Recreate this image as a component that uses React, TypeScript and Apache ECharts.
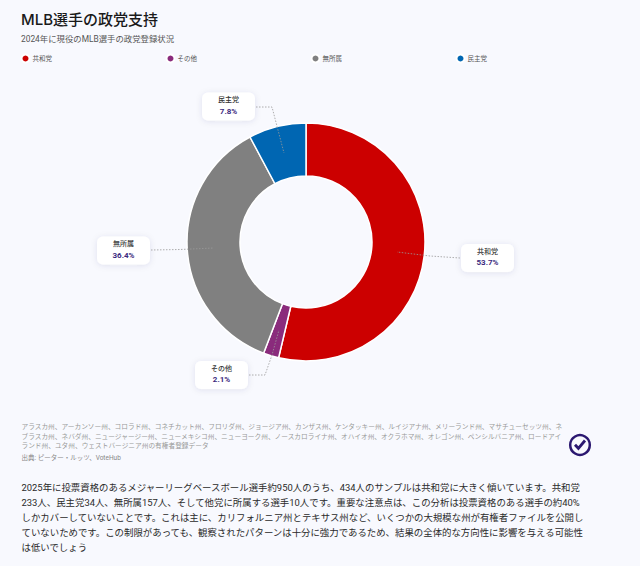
import React, { useEffect, useRef } from "react";
import * as echarts from "echarts";

const titleText = "MLB選手の政党支持";
const subtitleText = "2024年に現役のMLB選手の政党登録状況";
const categories = ["共和党", "その他", "無所属", "民主党"];
const shares = [53.7, 2.1, 36.4, 7.8];
const colors = ["#cc0000", "#8a2b7c", "#808080", "#0066b2"];
const noteLines = [
  "アラスカ州、アーカンソー州、コロラド州、コネチカット州、フロリダ州、ジョージア州、カンザス州、ケンタッキー州、ルイジアナ州、メリーランド州、マサチューセッツ州、ネ",
  "ブラスカ州、ネバダ州、ニュージャージー州、ニューメキシコ州、ニューヨーク州、ノースカロライナ州、オハイオ州、オクラホマ州、オレゴン州、ペンシルバニア州、ロードアイ",
  "ランド州、ユタ州、ウェストバージニア州の有権者登録データ",
];
const sourceText = "出典: ピーター・ルッツ、VoteHub";
const bodyLines = [
  "2025年に投票資格のあるメジャーリーグベースボール選手約950人のうち、434人のサンプルは共和党に大きく傾いています。共和党",
  "233人、民主党34人、無所属157人、そして他党に所属する選手10人です。重要な注意点は、この分析は投票資格のある選手の約40%",
  "しかカバーしていないことです。これは主に、カリフォルニア州とテキサス州など、いくつかの大規模な州が有権者ファイルを公開し",
  "ていないためです。この制限があっても、観察されたパターンは十分に強力であるため、結果の全体的な方向性に影響を与える可能性",
  "は低いでしょう",
];
const legendLefts = [20.5, 165.5, 310.5, 455.5];
const labelCenters = [
  [487.5, 258],
  [221.5, 375],
  [123.5, 250.5],
  [228.5, 106.5],
];
const leaderPoints = [
  [[460, 258], [430, 256], [397, 252]],
  [[249, 375], [265, 375], [272, 355], [279, 330]],
  [[151, 250], [180, 249.5], [214, 248]],
  [[256, 107], [272, 107], [284, 153]],
];

const FONT = "Roboto, 'Noto Sans CJK JP', sans-serif";

export default function App() {
  const ref = useRef<HTMLDivElement>(null);
  useEffect(() => {
    document.body.style.margin = "0";
    const chart = echarts.init(ref.current!, undefined, { renderer: "svg" });
    const text = (x: number, y: number, t: string, fontSize: number, fill: string, fontWeight: any = 400, fontFamily = FONT) => ({
      type: "text",
      x,
      y,
      silent: true,
      style: { text: t, fontSize, fill, fontWeight, fontFamily, verticalAlign: "middle" },
    });
    chart.setOption({
      animation: false,
      backgroundColor: "#f8f9fe",
      color: colors,
      title: [
        {
          text: titleText,
          left: 21,
          top: 12,
          padding: 0,
          textStyle: { fontSize: 15, fontWeight: 500, color: "#1a1a1a", fontFamily: "Inter, 'Noto Sans CJK JP', sans-serif" },
        },
        {
          text: subtitleText,
          left: 21,
          top: 35,
          padding: 0,
          textStyle: { fontSize: 8.4, fontWeight: 400, color: "#555555", fontFamily: FONT },
        },
      ],
      legend: categories.map((name, i) => ({
        data: [name],
        left: legendLefts[i],
        top: 53.5,
        padding: 0,
        icon: "circle",
        itemWidth: 8,
        itemHeight: 8,
        itemGap: 0,
        selectedMode: false,
        textStyle: { fontSize: 6.5, color: "#555555", fontFamily: FONT, padding: [0, 0, 0, -2] },
      })),
      series: [
        {
          type: "pie",
          center: [306, 242],
          radius: [66, 119],
          startAngle: 90,
          clockwise: true,
          avoidLabelOverlap: false,
          itemStyle: { borderColor: "#ffffff", borderWidth: 1.5 },
          emphasis: { disabled: true },
          data: categories.map((name, i) => ({ name, value: shares[i] })),
          label: {
            show: true,
            position: "outside",
            formatter: "{n|{b}}\n{v|{c}%}",
            backgroundColor: "#ffffff",
            borderRadius: 6,
            shadowColor: "rgba(40,40,90,0.10)",
            shadowBlur: 6,
            shadowOffsetY: 1,
            width: 53,
            height: 26,
            padding: [2, 0, 0, 0],
            align: "center",
            verticalAlign: "middle",
            rich: {
              n: { fontSize: 7, lineHeight: 11, fontWeight: 500, color: "#333333", fontFamily: FONT, align: "center", width: 53 },
              v: { fontSize: 8, lineHeight: 11, color: "#3b2a80", fontWeight: 700, fontFamily: FONT, align: "center", width: 53 },
            },
          },
          labelLine: { show: false },
          labelLayout: (p: any) => ({
            x: labelCenters[p.dataIndex][0],
            y: labelCenters[p.dataIndex][1],
            align: "center",
            verticalAlign: "middle",
          }),
        },
      ],
      graphic: [
        ...leaderPoints.map((points) => ({
          type: "polyline",
          silent: true,
          z: 20,
          shape: { points },
          style: { fill: "none", stroke: "#999999", lineWidth: 0.8, lineDash: [1.5, 1.5] },
        })),
        ...noteLines.map((t, i) => text(21.5, 427 + i * 9.6, t, 6.7, "#999999")),
        text(21.5, 458, sourceText, 6.5, "#888888"),
        ...bodyLines.map((t, i) => text(21.5, 487 + i * 15.1, t, 9.42, "#2a2a2a")),
        {
          type: "circle",
          silent: true,
          shape: { cx: 580, cy: 445, r: 9.8 },
          style: { fill: "none", stroke: "#2b1870", lineWidth: 2.5 },
        },
        {
          type: "polyline",
          silent: true,
          shape: { points: [[575, 444.7], [578.4, 448.3], [585, 440.5]] },
          style: { fill: "none", stroke: "#2b1870", lineWidth: 2.8 },
        },
      ],
    });
    return () => chart.dispose();
  }, []);
  return <div ref={ref} style={{ width: 640, height: 566 }} />;
}
